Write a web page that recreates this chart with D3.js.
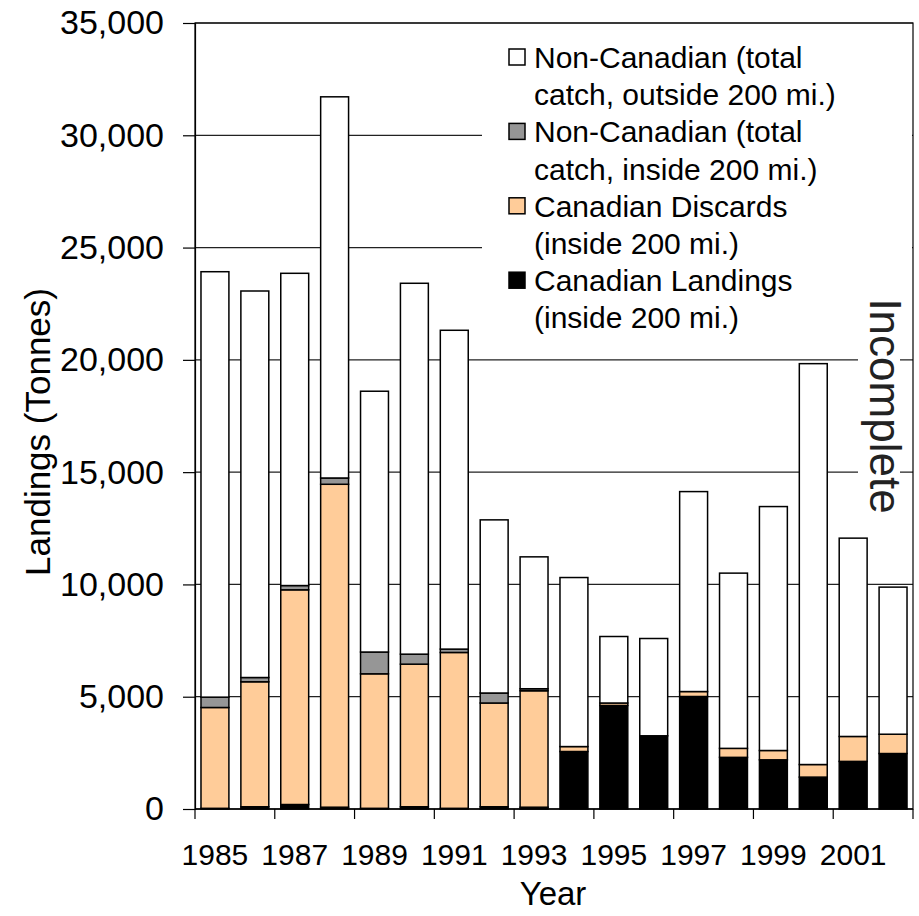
<!DOCTYPE html>
<html>
<head>
<meta charset="utf-8">
<script src="https://cdn.jsdelivr.net/npm/d3@7"></script>
<style>
  html, body { margin: 0; padding: 0; background: #fff; }
  svg { display: block; font-family: "Liberation Sans", Arial, sans-serif; }
</style>
</head>
<body>
<svg id="chart" width="919" height="916"></svg>
<script>
// Catch by year (tonnes), stacked bottom to top
const years = [1985, 1986, 1987, 1988, 1989, 1990, 1991, 1992, 1993,
               1994, 1995, 1996, 1997, 1998, 1999, 2000, 2001, 2002];
const canadianLandings = [30, 100, 200, 80, 30, 100, 30, 100, 80,
                          2560, 4610, 3260, 5010, 2300, 2190, 1420, 2120, 2470];
const canadianDiscards = [4490, 5565, 9560, 14380, 5990, 6350, 6940, 4620, 5185,
                          220, 110, 0, 220, 400, 415, 560, 1110, 860];
const nonCanInside = [460, 190, 190, 280, 970, 445, 150, 445, 90,
                      0, 0, 0, 0, 0, 0, 0, 0, 0];
const nonCanOutside = [18945, 17211, 13904, 16973, 11613, 16515, 14197, 7710, 5873,
                       7527, 2961, 4332, 8904, 7803, 10862, 17851, 8831, 6550];
const yTicks = [0, 5000, 10000, 15000, 20000, 25000, 30000, 35000];
const xTickLabels = [1985, 1987, 1989, 1991, 1993, 1995, 1997, 1999, 2001];

const seriesKeys = ["landings", "discards", "inside", "outside"];
const seriesColors = { landings: "#000000", discards: "#FFCC99", inside: "#969696", outside: "#FFFFFF" };
const legendItems = [
  { key: "outside", lines: ["Non-Canadian (total", "catch, outside 200 mi.)"] },
  { key: "inside", lines: ["Non-Canadian (total", "catch, inside 200 mi.)"] },
  { key: "discards", lines: ["Canadian Discards", "(inside 200 mi.)"] },
  { key: "landings", lines: ["Canadian Landings", "(inside 200 mi.)"] }
];

const rows = years.map((y, i) => ({
  year: y,
  landings: canadianLandings[i],
  discards: canadianDiscards[i],
  inside: nonCanInside[i],
  outside: nonCanOutside[i]
}));

const svg = d3.select("#chart");
const m = { left: 195, right: 913, top: 23, bottom: 809 };

const x = d3.scaleBand().domain(years).range([m.left, m.right])
  .paddingInner(0.3).paddingOuter(0.15);
const y = d3.scaleLinear().domain([0, 35000]).range([m.bottom, m.top]);

// horizontal gridlines
svg.append("g").selectAll("line").data(yTicks).join("line")
  .attr("x1", m.left).attr("x2", m.right)
  .attr("y1", d => y(d)).attr("y2", d => y(d))
  .attr("stroke", "#222").attr("stroke-width", 1.2);

// plot frame (top and right)
svg.append("rect")
  .attr("x", m.left).attr("y", m.top)
  .attr("width", m.right - m.left).attr("height", m.bottom - m.top)
  .attr("fill", "none").attr("stroke", "#000").attr("stroke-width", 1.2);

// legend background hides the gridlines behind it
svg.append("rect").attr("x", 482).attr("y", 30).attr("width", 430).attr("height", 315)
  .attr("fill", "#fff");

// "Incomplete" note background
svg.append("rect").attr("x", 858).attr("y", 288).attr("width", 42).attr("height", 234)
  .attr("fill", "#fff");

// stacked bars
const stacked = d3.stack().keys(seriesKeys)(rows);
svg.append("g").selectAll("g").data(stacked).join("g")
  .attr("fill", d => seriesColors[d.key])
  .selectAll("rect").data(d => d.filter(p => p[1] - p[0] > 0)).join("rect")
  .attr("x", d => x(d.data.year))
  .attr("width", x.bandwidth())
  .attr("y", d => y(d[1]))
  .attr("height", d => y(d[0]) - y(d[1]))
  .attr("stroke", "#000").attr("stroke-width", 1.5);

// y axis
const yAxis = svg.append("g").attr("transform", `translate(${m.left},0)`)
  .call(d3.axisLeft(y).tickValues(yTicks).tickSize(12).tickPadding(19)
    .tickFormat(d3.format(",")));
yAxis.select(".domain").attr("stroke", "#000").attr("stroke-width", 1.2);
yAxis.selectAll(".tick line").attr("stroke", "#000").attr("stroke-width", 1.2);
yAxis.selectAll("text").attr("font-size", 34).attr("fill", "#000")
  .attr("font-family", "Liberation Sans, Arial, sans-serif");

// x axis: ticks between categories every second year, labels on odd years
const xBase = svg.append("g");
xBase.append("line").attr("x1", m.left).attr("x2", m.right)
  .attr("y1", m.bottom).attr("y2", m.bottom)
  .attr("stroke", "#000").attr("stroke-width", 1.2);
const boundaries = years.filter((d, i) => i % 2 === 0).map(d => x(d) - x.step() * x.paddingInner() / 2)
  .concat([m.right]);
xBase.selectAll("line.tk").data(boundaries).join("line").attr("class", "tk")
  .attr("x1", d => d).attr("x2", d => d)
  .attr("y1", m.bottom).attr("y2", m.bottom + 10)
  .attr("stroke", "#000").attr("stroke-width", 1.2);
xBase.selectAll("text").data(xTickLabels).join("text")
  .attr("x", d => x(d) + x.bandwidth() / 2)
  .attr("y", 865)
  .attr("text-anchor", "middle")
  .attr("font-size", 30)
  .text(d => d);

// axis titles
svg.append("text").attr("x", 553).attr("y", 905).attr("text-anchor", "middle")
  .attr("font-size", 33).text("Year");
svg.append("text").attr("transform", "translate(50,432) rotate(-90)")
  .attr("text-anchor", "middle").attr("font-size", 35).text("Landings (Tonnes)");

// legend
const lg = svg.append("g");
legendItems.forEach((item, i) => {
  const cy = 57 + i * 2 * 37.2;
  lg.append("rect").attr("x", 509).attr("y", cy - 8).attr("width", 16).attr("height", 16)
    .attr("fill", seriesColors[item.key]).attr("stroke", "#000").attr("stroke-width", 1.5);
  item.lines.forEach((t, j) => {
    lg.append("text").attr("x", 534).attr("y", cy + 11 + j * 37.2)
      .attr("font-size", 30).attr("fill", "#000").text(t);
  });
});

// incomplete-data note
svg.append("text").attr("transform", "translate(870,406) rotate(90)")
  .attr("text-anchor", "middle").attr("font-size", 44).attr("fill", "#222")
  .text("Incomplete");
</script>
</body>
</html>
